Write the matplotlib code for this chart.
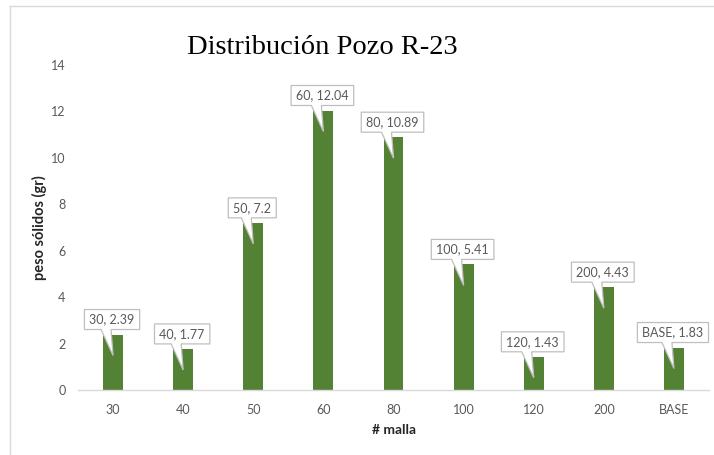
import matplotlib
matplotlib.use("Agg")
import matplotlib.pyplot as plt
from matplotlib.patches import Polygon
from matplotlib.lines import Line2D

categories = ["30", "40", "50", "60", "80", "100", "120", "200", "BASE"]
values = [2.39, 1.77, 7.2, 12.04, 10.89, 5.41, 1.43, 4.43, 1.83]
yticks = [0, 2, 4, 6, 8, 10, 12, 14]

W, H = 714, 455
fig = plt.figure(figsize=(W / 100, H / 100), dpi=100)
fig.patch.set_facecolor("white")

left_px, right_px, top_px, bottom_px = 78, 709, 65, 390
ax = fig.add_axes([left_px / W, (H - bottom_px) / H,
                   (right_px - left_px) / W, (bottom_px - top_px) / H])
x = list(range(len(categories)))
ax.bar(x, values, width=0.285, color="#548235", zorder=2)
ax.set_xlim(-0.5, len(categories) - 0.5)
ax.set_ylim(0, 14)
ax.set_yticks(yticks)
ax.set_xticks(x)
ax.set_xticklabels(categories)
for s in ["top", "right", "left"]:
    ax.spines[s].set_visible(False)
ax.spines["bottom"].set_color("#d9d9d9")
ax.spines["bottom"].set_linewidth(1.0)
ax.tick_params(length=0, labelsize=9, labelcolor="#595959")
ax.tick_params(axis="y", pad=9)
ax.tick_params(axis="x", pad=10)
for lab in ax.get_xticklabels() + ax.get_yticklabels():
    lab.set_family("Lato")

ax.set_ylabel("peso sólidos (gr)", fontsize=10.5, fontweight="bold",
              color="#262626", family="Lato", labelpad=3)
ax.set_xlabel("# malla", fontsize=10, fontweight="bold",
              color="#262626", family="Lato", labelpad=6)

fig.text(322 / W, (H - 47) / H, "Distribución Pozo R-23",
         family="Liberation Serif", fontsize=20.5, ha="center", va="center",
         color="black")

# outer border
fig.add_artist(Line2D([10 / W, 1], [(H - 5.5) / H, (H - 5.5) / H],
                      transform=fig.transFigure, color="#d9d9d9", lw=1.0))
fig.add_artist(Line2D([10 / W, 10 / W], [(H - 5.5) / H, 0],
                      transform=fig.transFigure, color="#d9d9d9", lw=1.0))

renderer = fig.canvas.get_renderer()
for i, (cat, v) in enumerate(zip(categories, values)):
    px, py = ax.transData.transform((i, v))
    cx = px - 1
    B = py + 5
    T = B + 20
    label = f"{cat}, {v:g}"
    t = fig.text(cx / W, (B + 10) / H, label, family="Lato", fontsize=9,
                 color="#595959", ha="center", va="center", zorder=6)
    bb = t.get_window_extent(renderer)
    w = bb.width + 10
    L, R = cx - w / 2, cx + w / 2
    a, b = px - 12, px - 2
    tip = (px, py - 21)
    verts = [(L, B), (a, B), tip, (b, B), (R, B), (R, T), (L, T)]
    verts = [(vx / W, vy / H) for vx, vy in verts]
    poly = Polygon(verts, closed=True, facecolor="white", edgecolor="#bfbfbf",
                   linewidth=0.9, transform=fig.transFigure, zorder=5)
    fig.add_artist(poly)

fig.savefig("out.png", dpi=100)
